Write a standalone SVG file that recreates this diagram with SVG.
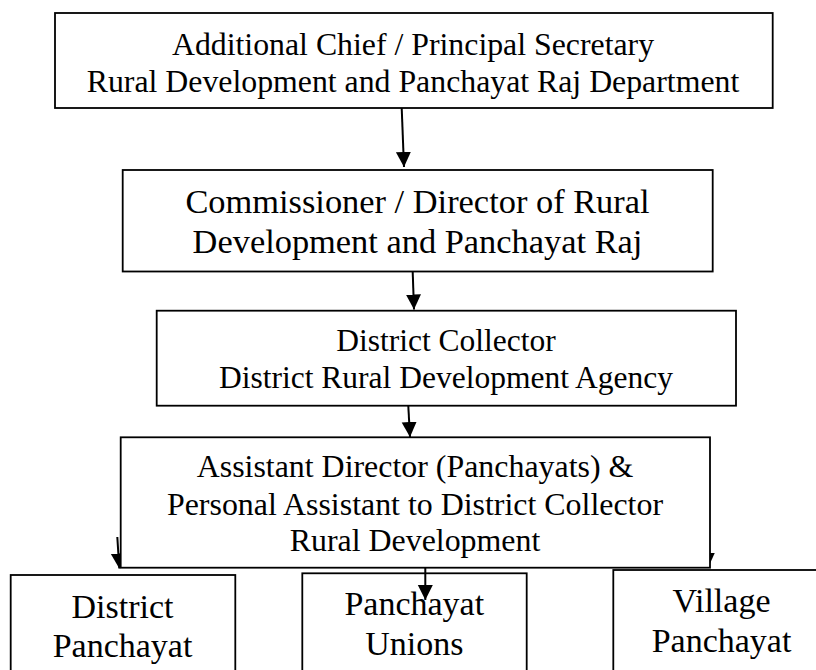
<svg xmlns="http://www.w3.org/2000/svg" width="816" height="670" viewBox="0 0 816 670">
<style>
.box{fill:#fff;stroke:#000;stroke-width:1.8}
.t{font-family:"Liberation Serif","Times New Roman",serif;fill:#000;text-anchor:middle}
.c{stroke:#000;stroke-width:2;fill:none;marker-end:url(#ah)}
</style>
<defs>
<marker id="ah" markerUnits="userSpaceOnUse" markerWidth="16" markerHeight="16" viewBox="0 0 16 16" refX="15" refY="8" orient="auto">
<path d="M0,0.5 L15,8 L0,15.5 Z" fill="#000"/>
</marker>
</defs>
<rect width="816" height="670" fill="#fff"/>
<g id="node-district-panchayat">
<rect class="box" x="10.7" y="575" width="224.6" height="110"/>
<text class="t" font-size="34"><tspan x="122.5" y="618.3">District</tspan><tspan x="122.5" y="656.7">Panchayat</tspan></text>
</g>
<g id="node-panchayat-unions">
<rect class="box" x="302.3" y="573.3" width="224.4" height="110"/>
<text class="t" font-size="34"><tspan x="414.3" y="615">Panchayat</tspan><tspan x="414.3" y="655">Unions</tspan></text>
</g>
<g id="node-village-panchayat">
<rect class="box" x="613.3" y="570" width="216" height="110"/>
<text class="t" font-size="34"><tspan x="721.5" y="611.7">Village</tspan><tspan x="721.5" y="651.7">Panchayat</tspan></text>
</g>
<g id="connectors">
<line class="c" x1="401.7" y1="108" x2="404" y2="167"/>
<line class="c" x1="412.7" y1="272" x2="414" y2="309.5"/>
<line class="c" x1="408.3" y1="406" x2="410" y2="437"/>
<line class="c" x1="117.3" y1="537" x2="119.3" y2="568.5"/>
<line class="c" x1="425.3" y1="568" x2="425.3" y2="600"/>
<line class="c" x1="706" y1="520" x2="708" y2="568"/>
</g>
<g id="node-secretary">
<rect class="box" x="55" y="13" width="717.7" height="95"/>
<text class="t" font-size="31.8"><tspan x="413" y="54.5">Additional Chief / Principal Secretary</tspan><tspan x="413" y="91.5">Rural Development and Panchayat Raj Department</tspan></text>
</g>
<g id="node-commissioner">
<rect class="box" x="122.7" y="170" width="590" height="101.5"/>
<text class="t" font-size="34.4"><tspan x="417.5" y="213">Commissioner / Director of Rural</tspan><tspan x="417.5" y="253">Development and Panchayat Raj</tspan></text>
</g>
<g id="node-collector">
<rect class="box" x="156.7" y="310.7" width="579.3" height="95"/>
<text class="t" font-size="31.5"><tspan x="446" y="351">District Collector</tspan><tspan x="446" y="388.3">District Rural Development Agency</tspan></text>
</g>
<g id="node-assistant-director">
<rect class="box" x="120.7" y="437.3" width="589.3" height="130.4"/>
<text class="t" font-size="31.9"><tspan x="415" y="477.3">Assistant Director (Panchayats) &amp;</tspan><tspan x="415" y="514.5">Personal Assistant to District Collector</tspan><tspan x="415" y="550.5">Rural Development</tspan></text>
</g>
</svg>
